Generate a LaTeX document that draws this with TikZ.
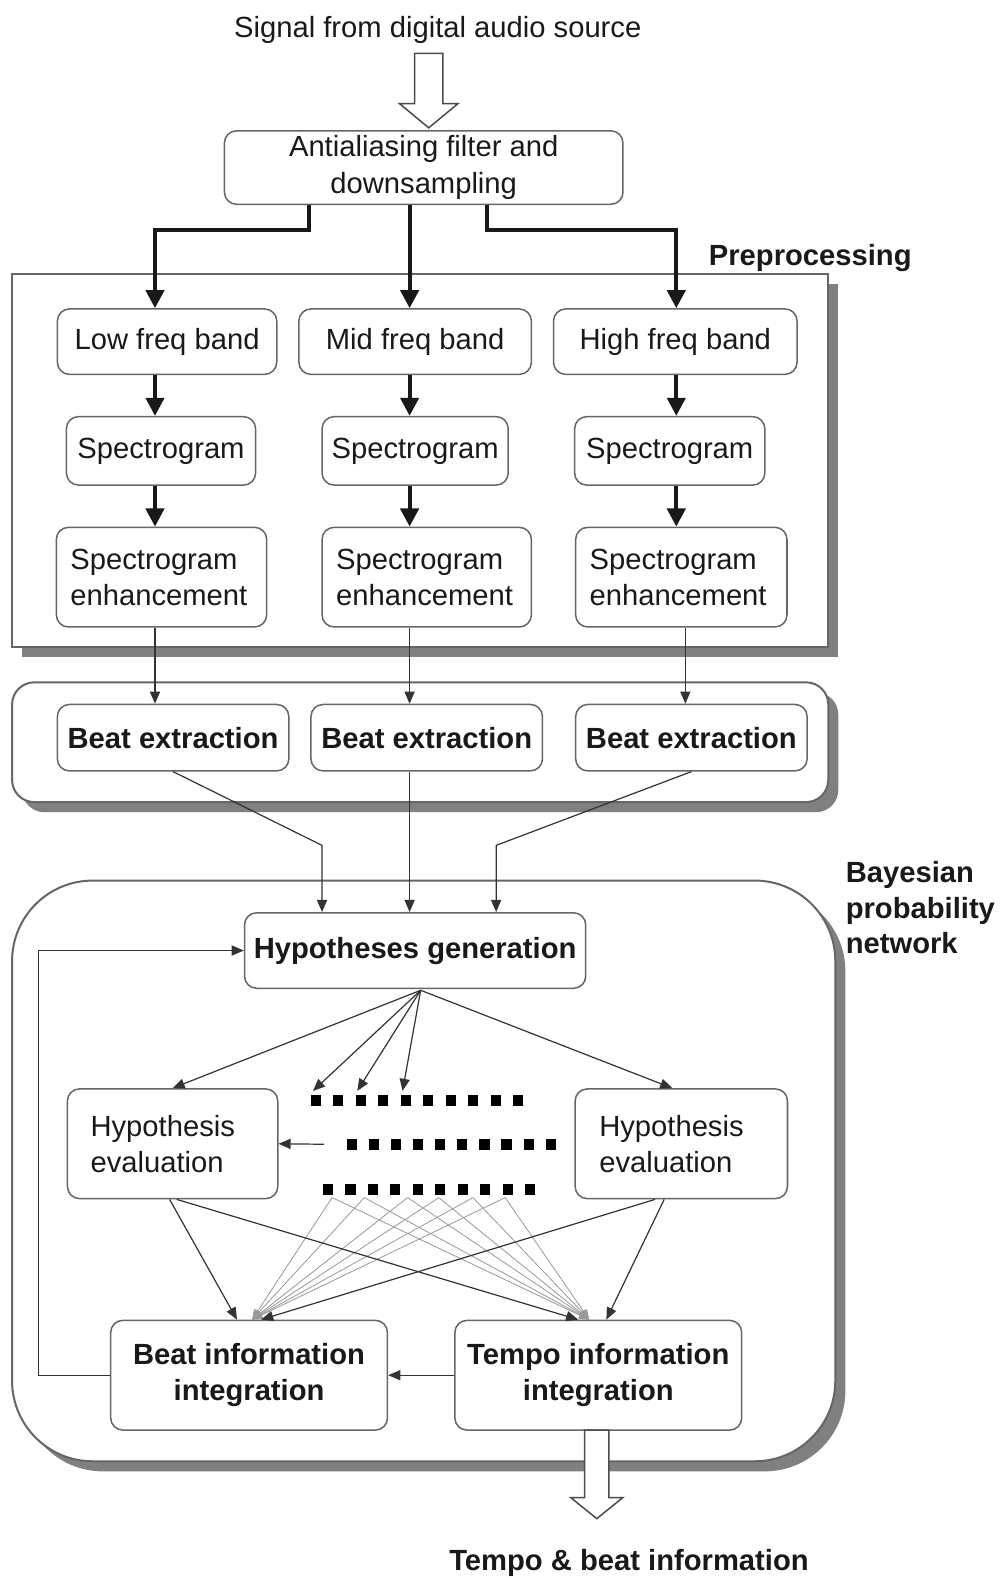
\documentclass[tikz,border=0pt]{standalone}
\usepackage{fontspec}
\setmainfont{Liberation Sans}
\usetikzlibrary{arrows.meta,shadows,calc}

\begin{document}
\begin{tikzpicture}[x=0.5pt,y=-0.5pt,
  txt/.style={font=\fontsize{14.5pt}{18pt}\selectfont, text=black!90},
  btxt/.style={font=\fontsize{14.5pt}{18pt}\selectfont\bfseries, text=black!90},
  box/.style={txt, draw=black!60, line width=0.75pt, rounded corners=6pt, fill=white,
    inner sep=2pt, align=center},
  bbox/.style={box, btxt},
  leftbox/.style={box, align=left, inner ysep=2pt},
  groupshadow/.style={drop shadow={shadow xshift=5pt, shadow yshift=-5pt, fill=black!50, opacity=1}},
  grouprect/.style={draw=black!60, line width=1pt, fill=white, groupshadow},
  thickarr/.style={-{Triangle[length=9pt,width=9pt]}, line width=2pt, draw=black!90},
  arr/.style={-{Triangle[length=6pt,width=5pt]}, line width=0.6pt, draw=black!80},
  grayarr/.style={-{Triangle[length=5pt,width=4pt]}, line width=0.4pt, draw=black!40},
  hollow/.style={draw=black!70, line width=0.75pt, fill=white, line join=miter},
  sq/.style={fill=black}
]
\useasboundingbox (0,0) rectangle (995,1568);

% ---------- input ----------
\node[txt, inner sep=0] (title) at (435,30) {Signal from digital audio source};
\draw[hollow] (412,53) -- (440,53) -- (440,103) -- (455,103) -- (426,127)
  -- (397,103) -- (412,103) -- cycle;

\node[box, minimum width=198pt, minimum height=36.5pt] (aa) at (421,166.5)
  {Antialiasing filter and\\downsampling};

% ---------- preprocessing group ----------
\node[grouprect, minimum width=405.5pt, minimum height=185.5pt] (pre) at (417.5,457.5) {};
\node[btxt, inner sep=0, anchor=west] (prelbl) at (704,256) {Preprocessing};

\node[box, minimum width=109pt, minimum height=32.5pt] (lowb) at (166,339.5) {Low freq band};
\node[box, minimum width=115.5pt, minimum height=32.5pt] (midb) at (412.5,339.5) {Mid freq band};
\node[box, minimum width=121pt, minimum height=32.5pt] (highb) at (671,339.5) {High freq band};

\node[box, minimum width=94pt, minimum height=34pt] (specL) at (160,448) {Spectrogram};
\node[box, minimum width=92.5pt, minimum height=34pt] (specM) at (412.5,448) {Spectrogram};
\node[box, minimum width=94.5pt, minimum height=34pt] (specH) at (665.5,448) {Spectrogram};

\node[leftbox, text width=90.5pt, inner xsep=7pt, minimum height=49.5pt] (enhL) at (160.5,573.5)
  {Spectrogram\\enhancement};
\node[leftbox, text width=90pt, inner xsep=7pt, minimum height=49.5pt] (enhM) at (424,573.5)
  {Spectrogram\\enhancement};
\node[leftbox, text width=91pt, inner xsep=7pt, minimum height=49.5pt] (enhH) at (677,573.5)
  {Spectrogram\\enhancement};

% ---------- beat extraction group ----------
\node[grouprect, rounded corners=11pt, minimum width=405.5pt, minimum height=59.5pt] (beatgrp)
  at (417.5,737.5) {};
\node[bbox, minimum width=115pt, minimum height=33pt] (beatL) at (172,733) {Beat extraction};
\node[bbox, minimum width=115pt, minimum height=33pt] (beatM) at (424,733) {Beat extraction};
\node[bbox, minimum width=115pt, minimum height=33pt] (beatH) at (687,733) {Beat extraction};

% ---------- Bayesian network group ----------
\node[grouprect, rounded corners=40pt, minimum width=409pt, minimum height=288.5pt] (bayes)
  at (421,1163.5) {};
\node[btxt, inner sep=0, anchor=west, align=left, font=\fontsize{14.5pt}{17.5pt}\selectfont\bfseries]
  (bayeslbl) at (840,902) {Bayesian\\probability\\network};

\node[bbox, minimum width=169.5pt, minimum height=37.5pt] (hyp) at (412.5,944.5) {Hypotheses generation};

\node[leftbox, text width=81.5pt, inner xsep=11.5pt, minimum height=54.5pt] (evL) at (171.5,1136.5)
  {Hypothesis\\evaluation};
\node[leftbox, text width=81.5pt, inner xsep=12pt, minimum height=54.5pt] (evR) at (677,1136.5)
  {Hypothesis\\evaluation};

\node[bbox, minimum width=137.5pt, minimum height=54.5pt] (bi) at (247.5,1366.5)
  {Beat information\\integration};
\node[bbox, minimum width=142.5pt, minimum height=54.5pt] (ti) at (594.5,1366.5)
  {Tempo information\\integration};

% rows of hypothesis markers
\foreach \i in {0,...,9} {
  \fill[sq] (309+\i*22.3,1088) rectangle ++(10,11);
  \fill[sq] (345+\i*21.9,1132) rectangle ++(10,11);
  \fill[sq] (321+\i*22.3,1176) rectangle ++(10,11);
}

% ---------- output ----------
\draw[hollow] (581,1421) -- (605,1421) -- (605,1488) -- (619,1488) -- (593,1509)
  -- (567,1488) -- (581,1488) -- cycle;
\node[btxt, inner sep=0] (out) at (625,1553) {Tempo \& beat information};

% ---------- connectors ----------
\coordinate (xa1) at (307,0);
\coordinate (xa3) at (484,0);
\coordinate (xL) at (154,0);
\coordinate (xM) at (407,0);
\coordinate (xH) at (672,0);
\coordinate (xH2) at (681,0);

\draw[thickarr] (aa.south -| xa1) -- ++(0,25) -| (lowb.north -| xL);
\draw[thickarr] (aa.south -| xM) -- (midb.north -| xM);
\draw[thickarr] (aa.south -| xa3) -- ++(0,25) -| (highb.north -| xH);

\draw[thickarr] (lowb.south -| xL) -- (specL.north -| xL);
\draw[thickarr] (midb.south -| xM) -- (specM.north -| xM);
\draw[thickarr] (highb.south -| xH) -- (specH.north -| xH);
\draw[thickarr] (specL.south -| xL) -- (enhL.north -| xL);
\draw[thickarr] (specM.south -| xM) -- (enhM.north -| xM);
\draw[thickarr] (specH.south -| xH) -- (enhH.north -| xH);

\draw[arr] (enhL.south -| xL) -- (beatL.north -| xL);
\draw[arr] (enhM.south -| xM) -- (beatM.north -| xM);
\draw[arr] (enhH.south -| xH2) -- (beatH.north -| xH2);

\coordinate (k1) at (320,840);
\coordinate (k3) at (493,840);
\draw[arr] (beatL.south) -- (k1) -- (hyp.north -| k1);
\draw[arr] (beatM.south -| xM) -- (hyp.north -| xM);
\draw[arr] (beatH.south) -- (k3) -- (hyp.north -| k3);

% fan of hypotheses
\coordinate (fo) at (418,984);
\coordinate (d1) at (311,1084);
\coordinate (d2) at (355,1084);
\coordinate (d3) at (400,1084);
\draw[arr] (fo) -- (evL.north);
\draw[arr] (fo) -- (d1);
\draw[arr] (fo) -- (d2);
\draw[arr] (fo) -- (d3);
\draw[arr] (fo) -- ($(evR.north)+(-9,0)$);

\coordinate (r2) at (322,1137);
\draw[arr] (r2) -- (evL.east);

% evaluations to integration
\foreach \gx [count=\i] in {330,362,405,436,470,502} {
  \coordinate (g\i) at (\gx,1190);
  \draw[grayarr] (g\i) -- ($(bi.north)+(3,0)$);
  \draw[grayarr] (g\i) -- ($(ti.north)+(-9,0)$);
}
\draw[arr] ($(evL.south)+(-3,0)$) -- ($(bi.north)+(-12,0)$);
\draw[arr] ($(evL.south)+(4,0)$) -- ($(ti.north)+(-20,0)$);
\draw[arr] ($(evR.south)+(-17,0)$) -- ($(ti.north)+(8,0)$);
\draw[arr] ($(evR.south)+(-26,0)$) -- ($(bi.north)+(12,0)$);

% integration feedback
\coordinate (lx) at (38,0);
\draw[arr] (ti.west) -- (bi.east);
\draw[arr] (bi.west) -- (bi.west -| lx) |- (hyp.west);

\end{tikzpicture}
\end{document}
